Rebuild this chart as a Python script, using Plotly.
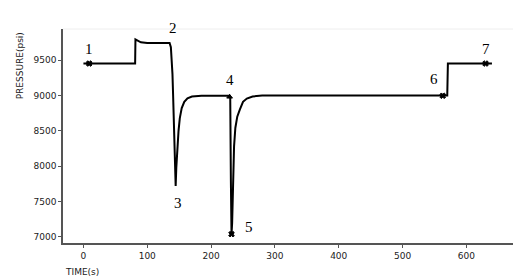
import plotly.graph_objects as go

# Pressure history
time_s = [0, 81, 81.5, 84, 90, 100, 120, 135, 137, 138.5, 139.5, 140.5, 141.5, 142.5, 143.5, 144.5,
          145.5, 146.5, 147.5, 149, 151, 154, 158, 163, 170, 185, 229,
          230, 231, 232, 233, 234, 235, 236, 238, 241, 245, 250, 256, 265, 280, 563,
          570, 571, 630, 640]
pressure_psi = [9450, 9450, 9790, 9780, 9750, 9740, 9740, 9740, 9680, 9520, 9300, 9000, 8650, 8250, 7900, 7720,
                7980, 8180, 8330, 8500, 8680, 8820, 8910, 8960, 8985, 8995, 8995,
                8980, 7800, 7040, 7200, 7600, 8000, 8280, 8540, 8700, 8800, 8910, 8955, 8985, 8998, 8998,
                9000, 9450, 9450, 9450]

# Event points
event_labels = ["1", "2", "3", "4", "5", "6", "7"]
event_t = [9, 135, 145, 229, 232, 563, 630]
event_p = [9450, 9740, 7720, 8980, 7040, 8995, 9450]
event_marked = [True, False, False, True, True, True, True]
event_symbols = ["x", None, None, "triangle-up", "x", "x", "x"]

x_ticks = [0, 100, 200, 300, 400, 500, 600]
y_ticks = [7000, 7500, 8000, 8500, 9000, 9500]

label_shift = {"1": (0, 15), "2": (3, 15), "3": (2, -17), "4": (0, 17),
               "5": (17, 7), "6": (-9, 17), "7": (0, 15)}

fig = go.Figure()
fig.add_trace(go.Scatter(x=time_s, y=pressure_psi, mode="lines",
                         line=dict(color="black", width=2), showlegend=False,
                         hoverinfo="skip"))

mx = [t for t, m in zip(event_t, event_marked) if m]
my = [p for p, m in zip(event_p, event_marked) if m]
ms = [s for s, m in zip(event_symbols, event_marked) if m]
fig.add_trace(go.Scatter(x=mx, y=my, mode="markers",
                         marker=dict(symbol=ms, size=5, color="black",
                                     line=dict(color="black", width=1)),
                         showlegend=False, cliponaxis=False))

for lab, t, p in zip(event_labels, event_t, event_p):
    dx, dy = label_shift[lab]
    fig.add_annotation(x=t, y=p, text=lab, showarrow=False, xshift=dx, yshift=dy,
                       font=dict(family="Liberation Serif", size=15, color="black"))

axis_font = dict(family="DejaVu Sans", size=9, color="#222")
fig.update_xaxes(range=[-32, 673], tickvals=x_ticks, ticks="outside", ticklen=3,
                 tickcolor="#555", showline=True, linecolor="#555", linewidth=1.5,
                 showgrid=False, zeroline=False, tickfont=axis_font)
fig.update_yaxes(range=[6915, 9938], tickvals=y_ticks, ticks="outside", ticklen=3,
                 tickcolor="#555", showline=True, linecolor="#555", linewidth=1.5,
                 showgrid=False, zeroline=False, tickfont=axis_font)

# faint top frame
fig.add_shape(type="line", xref="paper", yref="paper", x0=0, x1=1, y0=1, y1=1,
              line=dict(color="#eeeeee", width=1))

fig.add_annotation(text="PRESSURE(psi)", xref="paper", yref="paper", x=-0.0956, y=0.83,
                   xanchor="center", yanchor="middle",
                   textangle=-90, showarrow=False, font=axis_font)
fig.add_annotation(text="TIME(s)", xref="paper", yref="paper", x=0.0, y=-0.135,
                   xanchor="left", yanchor="middle", showarrow=False, font=axis_font)

fig.update_layout(width=522, height=277, margin=dict(l=63, r=9, t=29, b=34),
                  plot_bgcolor="white", paper_bgcolor="white")

fig.write_html("out.html")
